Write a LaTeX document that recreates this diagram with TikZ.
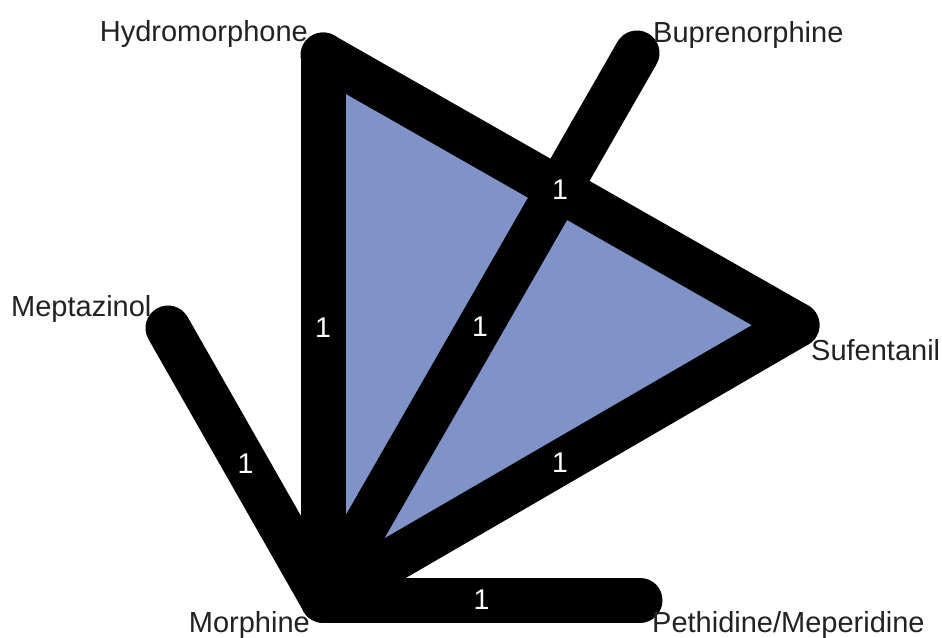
\documentclass[tikz,border=0pt]{standalone}
\usepackage{fontspec}
\setmainfont{Liberation Sans}
\definecolor{trifill}{HTML}{7F93C9}
\definecolor{labtext}{HTML}{222222}
\begin{document}
\begin{tikzpicture}[x=1pt,y=-1pt,
  vertex/.style={inner sep=0pt,minimum size=0pt},
  edgeline/.style={line width=45pt,line cap=round,line join=round,black},
  vlabel/.style={text=labtext,font=\fontsize{29}{30}\selectfont,inner sep=0pt},
  elabel/.style={text=white,font=\fontsize{28.5}{30}\selectfont,inner sep=0pt,midway}]
\useasboundingbox (0,0) rectangle (942,637);
\node[vertex] (hyd) at (323,55) {};
\node[vertex] (bup) at (637,53) {};
\node[vertex] (mep) at (168,328) {};
\node[vertex] (suf) at (797,325) {};
\node[vertex] (mor) at (323,600) {};
\node[vertex] (pet) at (640,600) {};
\fill[trifill] (hyd.center) -- (suf.center) -- (mor.center) -- cycle;
\draw[edgeline] (hyd.center) -- (mor.center);
\draw[edgeline] (hyd.center) -- (suf.center);
\draw[edgeline] (suf.center) -- (mor.center);
\draw[edgeline] (bup.center) -- (mor.center);
\draw[edgeline] (mep.center) -- (mor.center);
\draw[edgeline] (mor.center) -- (pet.center);
\path (hyd.center) -- (mor.center) node[elabel] {1};
\path (hyd.center) -- (suf.center) node[elabel] {1};
\path (suf.center) -- (mor.center) node[elabel] {1};
\path (bup.center) -- (mor.center) node[elabel] {1};
\path (mep.center) -- (mor.center) node[elabel] {1};
\path (mor.center) -- (pet.center) node[elabel] {1};
\node[vlabel,anchor=base east] (hydl) at (308,41) {Hydromorphone};
\node[vlabel,anchor=base west] (bupl) at (653,42) {Buprenorphine};
\node[vlabel,anchor=base west] (mepl) at (11,316) {Meptazinol};
\node[vlabel,anchor=base west] (sufl) at (811,360) {Sufentanil};
\node[vlabel,anchor=base east] (morl) at (310,632) {Morphine};
\node[vlabel,anchor=base west] (petl) at (652,632) {Pethidine/Meperidine};
\end{tikzpicture}
\end{document}
